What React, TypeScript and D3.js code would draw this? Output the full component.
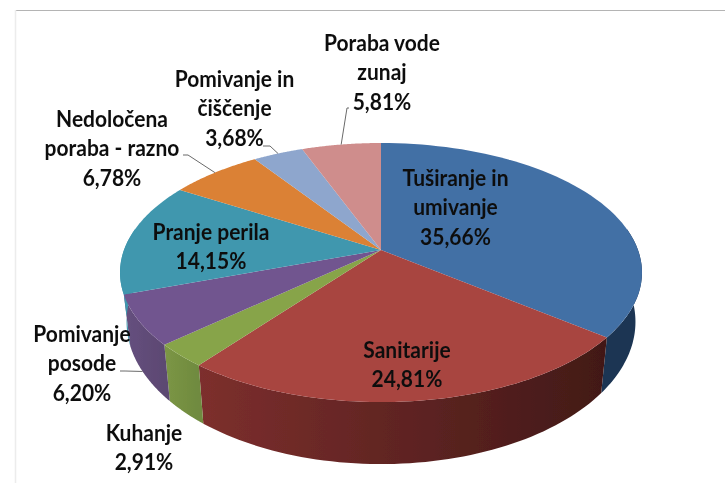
import React from "react";
import * as d3 from "d3";

const categories = [
  "Tuširanje in umivanje",
  "Sanitarije",
  "Kuhanje",
  "Pomivanje posode",
  "Pranje perila",
  "Nedoločena poraba - razno",
  "Pomivanje in čiščenje",
  "Poraba vode zunaj",
];
const values = [35.66, 24.81, 2.91, 6.2, 14.15, 6.78, 3.68, 5.81];
const valueLabels = ["35,66%", "24,81%", "2,91%", "6,20%", "14,15%", "6,78%", "3,68%", "5,81%"];
const topColors = ["#436fa5", "#a84441", "#87a44a", "#71548f", "#3f97ae", "#db8136", "#8ea6cd", "#cf8d8c"];
const sideLeft = ["#1b3553", "#7d2f2d", "#7c9645", "#66507f", "#3f97ae", "#db8136", "#8ea6cd", "#cf8d8c"];
const sideRight = ["#1a2f48", "#421917", "#6f8a3f", "#5c4872", "#3f97ae", "#db8136", "#8ea6cd", "#cf8d8c"];
const labelLines = [
  ["Tuširanje in", "umivanje", "35,66%"],
  ["Sanitarije", "24,81%"],
  ["Kuhanje", "2,91%"],
  ["Pomivanje", "posode", "6,20%"],
  ["Pranje perila", "14,15%"],
  ["Nedoločena", "poraba - razno", "6,78%"],
  ["Pomivanje in", "čiščenje", "3,68%"],
  ["Poraba vode", "zunaj", "5,81%"],
];
const labelAnchors: [number, number][] = [
  [455.5, 186], [407, 358], [144, 441], [82, 342], [211, 240], [112, 127], [234.5, 87], [382, 51],
];
const lineHeight = 29.3;

const cx = 381;
const cy = 250;
const R = 257;
const B = 125.6;
const k = 0.174;

const project = (a: number, rim: "top" | "bottom"): [number, number] => {
  const u = Math.sin(a);
  const v = -Math.cos(a);
  const s = 1 / (1 - k * v);
  if (rim === "top") return [cx + R * u * s, cy + B * v * s];
  return [cx + R * 0.975 * u * s, 297 + 138 * v * s];
};

const arcs = d3.pie<number>().sort(null).value((d) => d)(values);
const line = d3.line();

const sample = (a0: number, a1: number, n = 60) =>
  d3.range(n + 1).map((i) => a0 + ((a1 - a0) * i) / n);

const topPath = (a0: number, a1: number) =>
  line([[cx, cy], ...sample(a0, a1).map((a) => project(a, "top"))]) + "Z";

const sidePath = (a0: number, a1: number) =>
  line([
    ...sample(a0, a1).map((a) => project(a, "top")),
    ...sample(a1, a0).map((a) => project(a, "bottom")),
  ]) + "Z";

// Front of the drum runs from the right silhouette to the left silhouette.
const frontStart = Math.PI / 2 - 0.17;
const frontEnd = (3 * Math.PI) / 2 + 0.17;

const leaders: [number, number, number, number, number][] = [
  // slice index, rim angle fraction, text end x, text end y, mid x
  [3, 0.55, 120, 371, 125],
  [5, 0.5, 183, 155, 188],
  [6, 0.5, 263, 146, 270],
  [7, 0.5, 349, 108, 347],
];

export default function App() {
  const order = d3.range(values.length);
  return (
    <svg
      width={725}
      height={483}
      style={{ position: "absolute", left: 0, top: 0, background: "#fff" }}
      fontFamily="Lato, 'Open Sans', sans-serif"
    >
      <defs>
        <filter id="soft" x="-5%" y="-5%" width="110%" height="110%">
          <feGaussianBlur stdDeviation="0.55" />
        </filter>
        {order.map((i) => (
          <linearGradient
            key={i}
            id={`side${i}`}
            gradientUnits="userSpaceOnUse"
            x1={i === 1 ? 197 : project(arcs[i].endAngle, "top")[0]}
            x2={i === 1 ? 606 : project(arcs[i].startAngle, "top")[0]}
            y1={0}
            y2={0}
          >
            <stop offset="0" stopColor={sideLeft[i]} />
            <stop offset="1" stopColor={sideRight[i]} />
          </linearGradient>
        ))}
      </defs>
      <line x1={15} y1={10.5} x2={725} y2={10.5} stroke="#b4b4b4" strokeWidth={1.2} />
      <line x1={15.5} y1={10} x2={15.5} y2={483} stroke="#ececec" strokeWidth={1.5} />
      <g filter="url(#soft)">
        {order.map((i) => {
          const a0 = Math.max(arcs[i].startAngle, frontStart);
          const a1 = Math.min(arcs[i].endAngle, frontEnd);
          if (a1 <= a0) return null;
          return <path key={`s${i}`} d={sidePath(a0, a1)} fill={`url(#side${i})`} data-category={categories[i]} />;
        })}
        {order.map((i) => (
          <path key={`t${i}`} d={topPath(arcs[i].startAngle, arcs[i].endAngle)} fill={topColors[i]} data-value={values[i]} />
        ))}
        {leaders.map(([i, f, tx, ty, mx]) => {
          const a = arcs[i].startAngle + (arcs[i].endAngle - arcs[i].startAngle) * f;
          const p = project(a, i === 3 ? "bottom" : "top");
          return (
            <path
              key={`l${i}`}
              d={`M${tx},${ty}L${mx},${ty}L${p[0]},${p[1]}`}
              fill="none"
              stroke="#6a6a6a"
              strokeWidth={1}
            />
          );
        })}
      </g>
      <g filter="url(#soft)" fontSize={21} fontWeight={700} fill="#111" textAnchor="middle">
        {labelLines.map((lines, i) => (
          <g key={i} aria-label={valueLabels[i]}>
            {lines.map((t, j) => (
              <text
                key={j}
                transform={`translate(${labelAnchors[i][0]},${labelAnchors[i][1] + j * lineHeight}) scale(1,1.12)`}
              >
                {t}
              </text>
            ))}
          </g>
        ))}
      </g>
    </svg>
  );
}
